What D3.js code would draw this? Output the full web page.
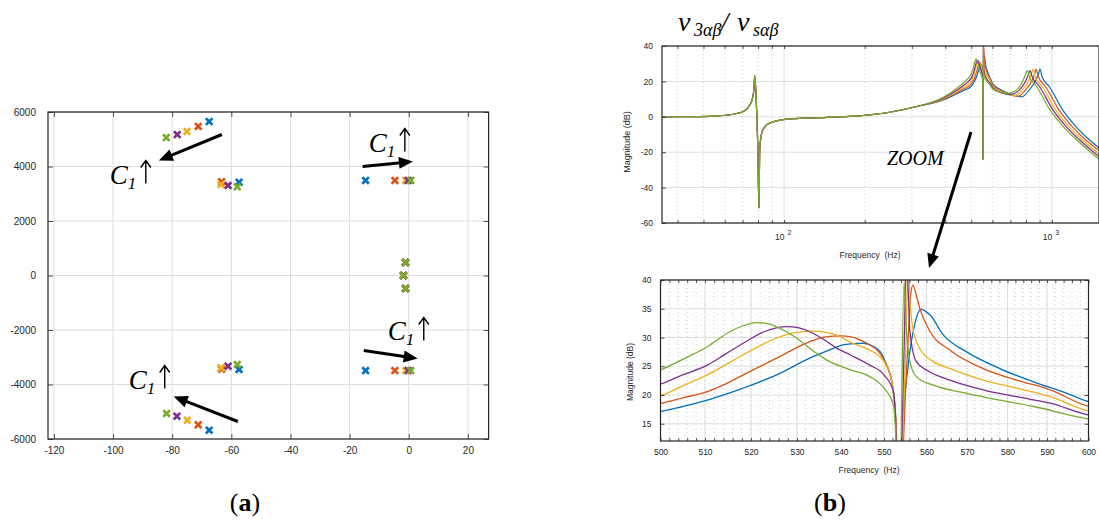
<!DOCTYPE html>
<html>
<head>
<meta charset="utf-8">
<script src="https://cdn.jsdelivr.net/npm/d3@7"></script>
<style>
  body { margin: 0; background: #fff; }
</style>
</head>
<body>
<svg id="fig" width="1099" height="523"></svg>
<script>
// MATLAB default colour order, drawn in this order (green ends on top)
const seriesColors = ["#0072BD", "#D95319", "#EDB120", "#7E2F8E", "#77AC30"];

// (a) pole positions [real, imag] for each capacitor value
const polesBlue   = [[-67.5, 5650], [-57.4, 3424], [-14.6, 3490], [-1.1, 477], [-1.8, 0], [-1.1, -477], [-14.6, -3490], [-57.4, -3450], [-67.5, -5677]];
const polesRed    = [[-71.2, 5470], [-63.3, 3440], [-4.7, 3490], [-1.1, 477], [-1.8, 0], [-1.1, -477], [-4.7, -3490], [-63.3, -3440], [-71.2, -5480]];
const polesYellow = [[-75.0, 5280], [-63.5, 3339], [-1.0, 3490], [-1.1, 477], [-1.8, 0], [-1.1, -477], [-1.0, -3490], [-63.5, -3387], [-74.9, -5310]];
const polesPurple = [[-78.3, 5170], [-61.1, 3303], [-0.2, 3490], [-1.1, 477], [-1.8, 0], [-1.1, -477], [-0.2, -3490], [-61.1, -3327], [-78.4, -5163]];
const polesGreen  = [[-82.0, 5060], [-58.0, 3255], [0.7, 3490], [-1.1, 477], [-1.8, 0], [-1.1, -477], [0.7, -3490], [-58.0, -3266], [-81.9, -5064]];

const xTicksA = [-120, -100, -80, -60, -40, -20, 0, 20];
const yTicksA = [-6000, -4000, -2000, 0, 2000, 4000, 6000];

// (b) magnitude response [Hz, dB]; the low band is the same for every curve
const respLow = [[35, 0], [45, 0.1], [55, 0.4], [62, 1.0], [67, 2.0], [70.4, 3.0], [74.6, 6.8], [76.5, 11.5], [77.2, 16],
  [77.7, 23.3], [78.6, 11.5], [79.7, -14.8], [80.6, -51.5], [81.1, -18.6], [82.5, -9.2], [86.1, -4.5], [93.9, -2.3],
  [102.3, -1.3], [130, -0.6], [176, 0.2], [235, 2.0], [313, 5.8]];

const respBlue = [[393, 9.5], [441, 13.0], [470, 15.0], [500.4, 17.2], [505.0, 18.0], [510.5, 19.1], [514.4, 20.1], [518.3, 21.2],
  [525.6, 23.5], [532.9, 26.4], [537.0, 27.7], [540.5, 28.7], [542.9, 28.95], [545.2, 29.0], [546.9, 28.7], [548.3, 28.1],
  [549.6, 27.0], [550.6, 25.2], [552.2, 20.6], [552.9, 14], [553.3, -24], [554.5, 14.8], [555.7, 25.2], [557.2, 32.2],
  [558.7, 34.9], [560.9, 33.9], [564.2, 30.4], [569.9, 27.5], [578.1, 24.6], [586.6, 22.3], [594.8, 20.3], [600.3, 18.8],
  [650, 15.0], [700, 12.8], [773, 11.3], [824, 15.2], [872, 20.8], [892, 24.5], [903, 27.0],
  [920, 22.5], [978, 17.1], [1097, 3.9], [1230, -5.5], [1379, -13.0], [1500, -17.5]];

const respRed = [[393, 9.8], [441, 13.6], [470, 15.8], [500.4, 18.6], [505.0, 19.5], [510.5, 20.6], [514.4, 21.9], [518.3, 23.5],
  [525.6, 26.4], [532.9, 29.3], [536.5, 30.1], [539.8, 30.3], [542.4, 30.1], [544.4, 29.6], [546.7, 28.7], [548.4, 27.8],
  [550.0, 26.1], [551.8, 22.6], [552.9, 14], [553.3, -24], [554.5, 10], [555.7, 30], [556.3, 37.5], [556.8, 39.1],
  [557.7, 37], [558.4, 35.1], [560.9, 31.0], [565.8, 27.8], [574.0, 24.6], [582.3, 22.6], [590.8, 20.9], [600.3, 18.0],
  [650, 14.5], [700, 12.4], [750, 11.6], [798, 15.2],
  [845, 20.8], [864, 24.5], [873, 26.9], [891, 22.5], [947, 17.1], [1063, 3.9], [1191, -5.5], [1336, -13.0], [1500, -19.0]];

const respYellow = [[393, 10.1], [441, 14.2], [470, 16.8], [500.4, 20.0], [505.0, 21.6], [510.5, 23.5], [514.4, 25.2], [518.3, 27.0],
  [525.6, 29.9], [529.3, 30.8], [533.7, 31.1], [536.5, 30.9], [539.1, 30.4], [542.1, 29.2], [546.7, 27.8], [548.5, 27.0],
  [550.0, 25.8], [551.8, 22.3], [552.9, 14], [553.3, -24], [554.3, 10], [555.2, 30], [555.7, 45], [556.1, 36.8],
  [556.8, 31.6], [558.4, 28.1], [561.7, 25.8], [565.8, 24.6], [574.0, 22.6], [582.3, 21.2], [590.8, 19.7], [600.3, 17.2],
  [650, 14.0], [690, 12.6], [725, 12.0], [776, 15.2],
  [821, 20.8], [840, 24.5], [852, 26.9], [866, 22.5], [921, 17.1], [1033, 3.9], [1158, -5.5], [1299, -13.0], [1500, -21.0]];

const respPurple = [[393, 10.5], [441, 15.0], [470, 18.0], [500.4, 22.0], [505.0, 23.5], [510.5, 25.2], [514.4, 27.1], [518.3, 29.0],
  [522.8, 31.0], [527.8, 31.9], [530.2, 31.7], [532.9, 31.0], [536.0, 29.7], [539.1, 28.1], [542.1, 27.0], [546.7, 25.2],
  [550.0, 23.5], [552.2, 20.6], [552.9, 12], [553.3, -24], [554.1, 10], [554.8, 30], [555.2, 45], [555.7, 38],
  [556.1, 31], [557.6, 25.8], [560.1, 24.3], [565.8, 22.6], [574.0, 20.9], [582.3, 19.7], [590.8, 18.6], [600.3, 16.5],
  [650, 13.5], [700, 12.5], [757, 15.2], [802, 20.8],
  [820, 24.5], [829, 26.1], [845, 22.5], [899, 17.1], [1009, 3.9], [1131, -5.5], [1268, -13.0], [1500, -22.5]];

const respGreen = [[393, 11.0], [441, 16.0], [470, 19.5], [500.4, 24.5], [505.0, 26.2], [510.5, 28.4], [515.4, 31.0], [518.1, 32.0],
  [521.3, 32.6], [524.2, 32.3], [527.0, 31.3], [529.9, 29.9], [533.1, 28.0], [536.7, 26.1], [542.1, 24.4], [546.7, 23.2],
  [550.0, 21.2], [552.2, 18.3], [552.9, 10], [553.3, -24], [554.0, 10], [554.7, 39.5], [555.2, 32], [556.1, 25.8],
  [557.6, 23.2], [561.7, 21.7], [569.9, 20.3], [578.1, 19.1], [586.6, 18.0], [600.3, 15.8],
  [640, 13.8], [678, 13.0], [710, 13.8], [739, 15.2],
  [765, 18.0], [782, 20.8], [800, 24.5], [810, 26.1], [825, 22.5], [877, 17.1], [984, 3.9], [1103, -5.5], [1237, -13.0],
  [1500, -24.0]];

const yTicksTop = [-60, -40, -20, 0, 20, 40];
const decadeTicks = [100, 1000];
const minorLogTicks = [40, 50, 60, 70, 80, 90, 200, 300, 400, 500, 600, 700, 800, 900];
const xTicksBot = d3.range(500, 601, 10);
const xMinorBot = d3.range(500, 601, 2);
const yTicksBot = [15, 20, 25, 30, 35, 40];
const yMinorBot = d3.range(13, 41, 1);

const sans = "Arial, 'Liberation Sans', Helvetica, sans-serif";
const serif = "'Liberation Serif', 'Times New Roman', Times, serif";
const axisCol = "#262626";
const gridCol = "#dedede";
const dotCol = "#c4c4c4";

const svg = d3.select("#fig");
svg.append("rect").attr("width", 1099).attr("height", 523).attr("fill", "#fff");

function styleAxis(sel, fs) {
  sel.select(".domain").remove();
  sel.attr("font-family", null).attr("font-size", null);
  sel.selectAll(".tick line").attr("stroke", axisCol).attr("stroke-width", 0.8);
  sel.selectAll(".tick text").attr("fill", axisCol)
    .style("font-size", fs + "px").style("font-family", sans);
}

function arrow(g, p1, p2, head = 14, hw = 6, lw = 3) {
  const dx = p2[0] - p1[0], dy = p2[1] - p1[1];
  const L = Math.hypot(dx, dy), ux = dx / L, uy = dy / L;
  const bx = p2[0] - ux * head, by = p2[1] - uy * head;
  g.append("line")
    .attr("x1", p1[0]).attr("y1", p1[1])
    .attr("x2", bx + ux * 2).attr("y2", by + uy * 2)
    .attr("stroke", "#000").attr("stroke-width", lw);
  g.append("path")
    .attr("d", `M${p2[0]},${p2[1]}L${bx - uy * hw},${by + ux * hw}L${bx + uy * hw},${by - ux * hw}Z`)
    .attr("fill", "#000");
}

// thin "up" arrow like the text glyph, drawn as a path
function upArrow(g, x, yBase, h) {
  g.append("path")
    .attr("d", `M${x},${yBase}L${x},${yBase - h}M${x - 5},${yBase - h + 7}L${x},${yBase - h}L${x + 5},${yBase - h + 7}`)
    .attr("fill", "none").attr("stroke", "#000").attr("stroke-width", 1.4);
}

// ---------------- (a) pole map ----------------
const xA = d3.scaleLinear().domain([-122, 27]).range([48, 488.6]);
const yA = d3.scaleLinear().domain([-6000, 6000]).range([439, 112]);
const gA = svg.append("g");

gA.append("g").selectAll("line").data(xTicksA).join("line")
  .attr("x1", d => xA(d)).attr("x2", d => xA(d)).attr("y1", 112).attr("y2", 439)
  .attr("stroke", gridCol).attr("stroke-width", 1);
gA.append("g").selectAll("line").data(yTicksA).join("line")
  .attr("x1", 48).attr("x2", 488.6).attr("y1", d => yA(d)).attr("y2", d => yA(d))
  .attr("stroke", gridCol).attr("stroke-width", 1);

gA.append("g").attr("transform", "translate(0,439)")
  .call(d3.axisBottom(xA).tickValues(xTicksA).tickFormat(d => String(d)).tickSizeInner(-5).tickSizeOuter(0).tickPadding(8))
  .call(s => styleAxis(s, 10));
gA.append("g").attr("transform", "translate(0,112)")
  .call(d3.axisTop(xA).tickValues(xTicksA).tickFormat("").tickSizeInner(-5).tickSizeOuter(0))
  .call(s => styleAxis(s, 10));
gA.append("g").attr("transform", "translate(48,0)")
  .call(d3.axisLeft(yA).tickValues(yTicksA).tickFormat(d => String(d)).tickSizeInner(-5).tickSizeOuter(0).tickPadding(12))
  .call(s => styleAxis(s, 10));
gA.append("g").attr("transform", "translate(488.6,0)")
  .call(d3.axisRight(yA).tickValues(yTicksA).tickFormat("").tickSizeInner(-5).tickSizeOuter(0))
  .call(s => styleAxis(s, 10));
gA.append("rect").attr("x", 48).attr("y", 112).attr("width", 440.6).attr("height", 327)
  .attr("fill", "none").attr("stroke", axisCol).attr("stroke-width", 1.2);

[polesBlue, polesRed, polesYellow, polesPurple, polesGreen].forEach((pts, i) => {
  gA.append("g").selectAll("path").data(pts).join("path")
    .attr("transform", d => `translate(${xA(d[0])},${yA(d[1])})`)
    .attr("d", "M-3.3,-3.3L3.3,3.3M-3.3,3.3L3.3,-3.3")
    .attr("stroke", seriesColors[i]).attr("stroke-width", 2.7).attr("fill", "none");
});

// C1 annotations (data coordinates)
const notesA = [
  { from: [-63.2, 5174], to: [-84.5, 4220], label: [-101.1, 3376] },
  { from: [-15.6, 4000], to: [1.4, 4183], label: [-13.5, 4550] },
  { from: [-15.2, -2752], to: [3.0, -3046], label: [-7.1, -2385] },
  { from: [-57.8, -5358], to: [-79.5, -4440], label: [-94.7, -4147] }
];
notesA.forEach(n => {
  arrow(gA, [xA(n.from[0]), yA(n.from[1])], [xA(n.to[0]), yA(n.to[1])]);
  const lx = xA(n.label[0]), ly = yA(n.label[1]);
  const t = gA.append("text").attr("x", lx).attr("y", ly)
    .style("font-family", serif).style("font-size", "27px").attr("fill", "#000");
  t.append("tspan").style("font-style", "italic").text("C");
  t.append("tspan").style("font-style", "italic").style("font-size", "17px").attr("dy", 5).text("1");
  upArrow(gA, lx + 36, ly, 23);
});

// ---------------- (b) top: full response ----------------
const xT = d3.scaleLog().domain([35, 1500]).range([662, 1099]);
const yT = d3.scaleLinear().domain([-60, 40]).range([223, 46]);
const gT = svg.append("g");

gT.append("g").selectAll("line").data(minorLogTicks).join("line")
  .attr("x1", d => xT(d)).attr("x2", d => xT(d)).attr("y1", 46).attr("y2", 223)
  .attr("stroke", dotCol).attr("stroke-width", 0.8).attr("stroke-dasharray", "1,3");
gT.append("g").selectAll("line").data(decadeTicks).join("line")
  .attr("x1", d => xT(d)).attr("x2", d => xT(d)).attr("y1", 46).attr("y2", 223)
  .attr("stroke", gridCol).attr("stroke-width", 1);
gT.append("g").selectAll("line").data(yTicksTop).join("line")
  .attr("x1", 662).attr("x2", 1099).attr("y1", d => yT(d)).attr("y2", d => yT(d))
  .attr("stroke", gridCol).attr("stroke-width", 1);

svg.append("clipPath").attr("id", "clipTop").append("rect")
  .attr("x", 662).attr("y", 46).attr("width", 437).attr("height", 177);
const lineT = d3.line().x(d => xT(d[0])).y(d => yT(d[1])).curve(d3.curveMonotoneX);
const gTL = gT.append("g").attr("clip-path", "url(#clipTop)");
[respBlue, respRed, respYellow, respPurple, respGreen].forEach((s, i) => {
  gTL.append("path").datum(respLow.concat(s)).attr("d", lineT)
    .attr("fill", "none").attr("stroke", seriesColors[i]).attr("stroke-width", 1.2)
    .attr("stroke-linejoin", "round");
});

gT.append("g").attr("transform", "translate(0,223)")
  .call(d3.axisBottom(xT).tickValues(minorLogTicks.concat(decadeTicks)).tickFormat("").tickSizeInner(-3).tickSizeOuter(0))
  .call(s => styleAxis(s, 8.5));
gT.append("g").attr("transform", "translate(0,46)")
  .call(d3.axisTop(xT).tickValues(minorLogTicks.concat(decadeTicks)).tickFormat("").tickSizeInner(-3).tickSizeOuter(0))
  .call(s => styleAxis(s, 8.5));
gT.append("g").attr("transform", "translate(662,0)")
  .call(d3.axisLeft(yT).tickValues(yTicksTop).tickFormat(d => String(d)).tickSizeInner(-4).tickSizeOuter(0).tickPadding(9))
  .call(s => styleAxis(s, 8.5));
gT.append("rect").attr("x", 662).attr("y", 46).attr("width", 437).attr("height", 177)
  .attr("fill", "none").attr("stroke", axisCol).attr("stroke-width", 1.2);

decadeTicks.forEach((d, i) => {
  const t = gT.append("text").attr("x", xT(d) - 9).attr("y", 240)
    .style("font-family", sans).style("font-size", "8.5px").attr("fill", axisCol);
  t.append("tspan").text("10");
  t.append("tspan").attr("dx", 3).attr("dy", -5).style("font-size", "7px").text(String(i + 2));
});
gT.append("text").attr("x", 870).attr("y", 258).attr("text-anchor", "middle")
  .style("font-family", sans).style("font-size", "8.5px").attr("fill", axisCol)
  .attr("xml:space", "preserve").text("Frequency  (Hz)");
gT.append("text").attr("transform", "translate(630,142) rotate(-90)").attr("text-anchor", "middle")
  .style("font-family", sans).style("font-size", "9px").attr("fill", axisCol).text("Magnitude (dB)");

// title v3ab / vsab
const title = gT.append("text").attr("y", 31).style("font-family", serif).style("font-style", "italic").attr("fill", "#000");
title.append("tspan").attr("x", 678).style("font-size", "28px").text("v");
title.append("tspan").attr("x", 694).attr("dy", 5).style("font-size", "18px").text("3\u03b1\u03b2");
title.append("tspan").attr("x", 721).attr("dy", -5).style("font-size", "27px").text("/");
title.append("tspan").attr("x", 737).style("font-size", "28px").text("v");
title.append("tspan").attr("x", 753).attr("dy", 5).style("font-size", "18px").text("s\u03b1\u03b2");

// ---------------- (b) bottom: zoom ----------------
// grid positions as measured in the picture (spacing is not quite even there)
const xB = d3.scaleLinear().domain(xTicksBot)
  .range([660.5, 705, 751, 797, 841, 884, 926.5, 967, 1007.5, 1047, 1088.5]);
const yB = d3.scaleLinear().domain([12, 40]).range([441, 280]);
const gB = svg.append("g");

gB.append("g").selectAll("line").data(xMinorBot).join("line")
  .attr("x1", d => xB(d)).attr("x2", d => xB(d)).attr("y1", 280).attr("y2", 441)
  .attr("stroke", dotCol).attr("stroke-width", 0.8).attr("stroke-dasharray", "1,3");
gB.append("g").selectAll("line").data(yMinorBot).join("line")
  .attr("x1", 660.5).attr("x2", 1088.5).attr("y1", d => yB(d)).attr("y2", d => yB(d))
  .attr("stroke", dotCol).attr("stroke-width", 0.6).attr("stroke-dasharray", "1,7");
gB.append("g").selectAll("line").data(xTicksBot).join("line")
  .attr("x1", d => xB(d)).attr("x2", d => xB(d)).attr("y1", 280).attr("y2", 441)
  .attr("stroke", gridCol).attr("stroke-width", 1);
gB.append("g").selectAll("line").data(yTicksBot).join("line")
  .attr("x1", 660.5).attr("x2", 1088.5).attr("y1", d => yB(d)).attr("y2", d => yB(d))
  .attr("stroke", gridCol).attr("stroke-width", 1);

svg.append("clipPath").attr("id", "clipBot").append("rect")
  .attr("x", 660.5).attr("y", 280).attr("width", 428).attr("height", 161);
const lineB = d3.line().x(d => xB(d[0])).y(d => yB(d[1])).curve(d3.curveMonotoneX);
const gBL = gB.append("g").attr("clip-path", "url(#clipBot)");
[respBlue, respRed, respYellow, respPurple, respGreen].forEach((s, i) => {
  gBL.append("path").datum(s.filter(d => d[0] > 460 && d[0] < 660)).attr("d", lineB)
    .attr("fill", "none").attr("stroke", seriesColors[i]).attr("stroke-width", 1.3)
    .attr("stroke-linejoin", "round");
});

gB.append("g").attr("transform", "translate(0,441)")
  .call(d3.axisBottom(xB).tickValues(xMinorBot).tickFormat(d => d % 10 === 0 ? String(d) : "").tickSizeInner(-3).tickSizeOuter(0).tickPadding(8))
  .call(s => styleAxis(s, 8.5));
gB.append("g").attr("transform", "translate(0,280)")
  .call(d3.axisTop(xB).tickValues(xMinorBot).tickFormat("").tickSizeInner(-3).tickSizeOuter(0))
  .call(s => styleAxis(s, 8.5));
gB.append("g").attr("transform", "translate(660.5,0)")
  .call(d3.axisLeft(yB).tickValues(yTicksBot).tickFormat(d => String(d)).tickSizeInner(-4).tickSizeOuter(0).tickPadding(9))
  .call(s => styleAxis(s, 8.5));
gB.append("g").attr("transform", "translate(1088.5,0)")
  .call(d3.axisRight(yB).tickValues(yTicksBot).tickFormat("").tickSizeInner(-4).tickSizeOuter(0))
  .call(s => styleAxis(s, 8.5));
gB.append("rect").attr("x", 660.5).attr("y", 280).attr("width", 428).attr("height", 161)
  .attr("fill", "none").attr("stroke", axisCol).attr("stroke-width", 1.2);

gB.append("text").attr("x", 869).attr("y", 473).attr("text-anchor", "middle")
  .style("font-family", sans).style("font-size", "8.5px").attr("fill", axisCol)
  .attr("xml:space", "preserve").text("Frequency  (Hz)");
gB.append("text").attr("transform", "translate(633,372) rotate(-90)").attr("text-anchor", "middle")
  .style("font-family", sans).style("font-size", "8.5px").attr("fill", axisCol).text("Magnitude (dB)");

// ZOOM annotation between the two panels
svg.append("text").attr("x", 887).attr("y", 165)
  .style("font-family", serif).style("font-style", "italic").style("font-size", "20px").attr("fill", "#000").text("ZOOM");
arrow(svg, [971, 132], [929, 268], 14, 6, 3);

// panel captions
[["a", 245], ["b", 830]].forEach(([c, x]) => {
  const t = svg.append("text").attr("x", x).attr("y", 511).attr("text-anchor", "middle")
    .style("font-family", serif).style("font-size", "26px").attr("fill", "#000");
  t.append("tspan").text("(");
  t.append("tspan").style("font-weight", "bold").text(c);
  t.append("tspan").text(")");
});
</script>
</body>
</html>
